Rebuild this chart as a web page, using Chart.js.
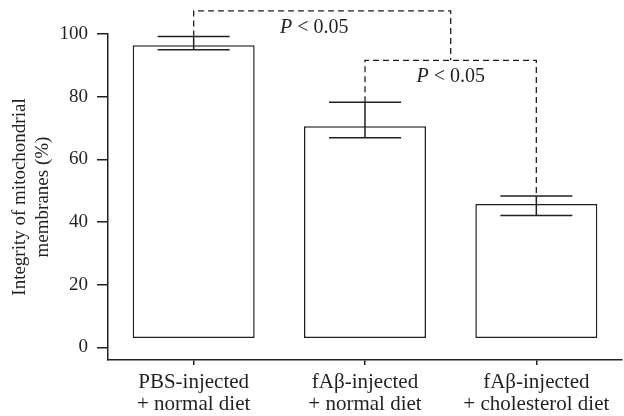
<!DOCTYPE html>
<html>
<head>
<meta charset="utf-8">
<script src="https://cdn.jsdelivr.net/npm/chart.js@4"></script>
<style>
  html, body { margin: 0; padding: 0; background: #fff; }
  #wrap { width: 624px; height: 416px; position: relative; }
</style>
</head>
<body>
<div id="wrap"><canvas id="c" width="624" height="416"></canvas></div>
<script>
// ---- data ----
const categories = [
  ['PBS-injected', '+ normal diet'],
  ['fA\u03B2-injected', '+ normal diet'],
  ['fA\u03B2-injected', '+ cholesterol diet']
];
const barBase = [3, 3, 3];
const integrity = [96.4, 70.6, 45.8];
const errLow = [95.0, 66.9, 42.1];
const errHigh = [99.2, 78.2, 48.3];
const yTicks = [0, 20, 40, 60, 80, 100];
const yTitle = ['Integrity of mitochondrial', 'membranes (%)'];
const pLabel = '< 0.05';
const bracketLevels = [107.4, 91.6];

const ink = '#231f20';
const serif = '"Liberation Serif", "Times New Roman", serif';

const floating = integrity.map((v, i) => [barBase[i], v]);

const overlay = {
  id: 'overlay',
  afterDatasetsDraw(chart) {
    const ctx = chart.ctx;
    const y = chart.scales.y;
    const meta = chart.getDatasetMeta(0);
    const cx = meta.data.map(b => b.x);
    ctx.save();
    ctx.strokeStyle = ink;
    ctx.lineWidth = 1.5;
    errLow.forEach((lo, i) => {
      const x = cx[i];
      const yl = y.getPixelForValue(lo), yh = y.getPixelForValue(errHigh[i]);
      const hw = 36;
      ctx.beginPath();
      ctx.moveTo(x, yl); ctx.lineTo(x, yh);
      ctx.moveTo(x - hw, yl); ctx.lineTo(x + hw, yl);
      ctx.moveTo(x - hw, yh); ctx.lineTo(x + hw, yh);
      ctx.stroke();
    });
    ctx.setLineDash([6, 4]);
    ctx.lineWidth = 1.3;
    const yB1 = y.getPixelForValue(bracketLevels[0]);
    const yB2 = y.getPixelForValue(bracketLevels[1]);
    const topOf = i => y.getPixelForValue(errHigh[i]);
    ctx.beginPath();
    ctx.moveTo(cx[1], topOf(1)); ctx.lineTo(cx[1], yB2); ctx.lineTo(cx[2], yB2); ctx.lineTo(cx[2], topOf(2));
    ctx.stroke();
    const mid2 = (cx[1] + cx[2]) / 2;
    ctx.beginPath();
    ctx.moveTo(cx[0], topOf(0)); ctx.lineTo(cx[0], yB1); ctx.lineTo(mid2, yB1); ctx.lineTo(mid2, yB2);
    ctx.stroke();
    ctx.setLineDash([]);
    function pText(xc, yTop) {
      const it = 'italic 20px ' + serif, rg = '20px ' + serif;
      ctx.font = it; const wP = ctx.measureText('P').width;
      ctx.font = rg; const wR = ctx.measureText(' ' + pLabel).width;
      const x0 = xc - (wP + wR) / 2;
      ctx.fillStyle = ink;
      ctx.textBaseline = 'alphabetic';
      ctx.textAlign = 'left';
      ctx.font = it; ctx.fillText('P', x0, yTop + 22);
      ctx.font = rg; ctx.fillText(' ' + pLabel, x0 + wP, yTop + 22);
    }
    pText((cx[0] + mid2) / 2 - 8, yB1);
    pText(mid2, yB2);
    ctx.restore();
  }
};

new Chart(document.getElementById('c'), {
  type: 'bar',
  data: {
    labels: categories,
    datasets: [{
      data: floating,
      backgroundColor: '#ffffff',
      borderColor: ink,
      borderWidth: 1.5,
      borderSkipped: false,
      barPercentage: 0.712,
      categoryPercentage: 1.0
    }]
  },
  options: {
    responsive: false,
    animation: false,
    devicePixelRatio: 1,
    layout: { padding: { top: 34, right: 2, left: 0, bottom: 0 } },
    plugins: { legend: { display: false }, tooltip: { enabled: false } },
    scales: {
      x: {
        type: 'category',
        offset: true,
        afterFit: ax => { ax.height = 56; ax.paddingLeft = 0; ax.paddingRight = 0; },
        border: { display: true, color: ink, width: 1.5 },
        grid: { offset: false, drawOnChartArea: false, drawTicks: true, tickLength: 5, color: ink, tickColor: ink, lineWidth: 1.5 },
        ticks: {
          autoSkip: false,
          maxRotation: 0,
          padding: 6,
          color: ink,
          font: { family: serif, size: 21, lineHeight: 1.05 }
        }
      },
      y: {
        min: -4,
        max: 100,
        afterBuildTicks: ax => { ax.ticks = yTicks.map(v => ({ value: v })); },
        afterFit: ax => { ax.width = 108; ax.paddingTop = 0; ax.paddingBottom = 0; },
        border: { display: true, color: ink, width: 1.5 },
        grid: { drawOnChartArea: false, drawTicks: true, tickLength: 11, tickColor: ink, lineWidth: 1.5 },
        ticks: { padding: 9, color: ink, font: { family: serif, size: 19 } },
        title: {
          display: true,
          text: yTitle,
          color: ink,
          font: { family: serif, size: 19, lineHeight: 1.2 },
          padding: { top: 9, bottom: 0 }
        }
      }
    }
  },
  plugins: [overlay]
});
</script>
</body>
</html>
